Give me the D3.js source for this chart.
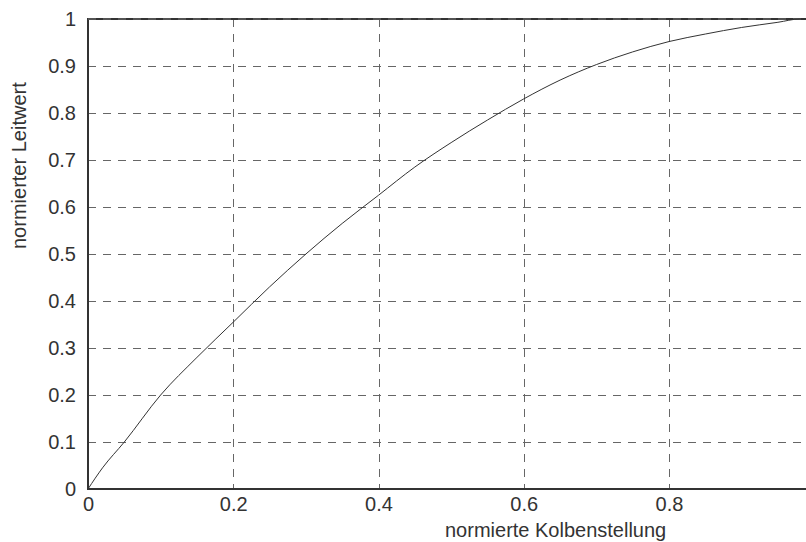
<!DOCTYPE html>
<html>
<head>
<meta charset="utf-8">
<script src="https://cdn.jsdelivr.net/npm/d3@7"></script>
<style>
  html, body { margin: 0; padding: 0; background: #fff; }
  svg { display: block; }
  text { font-family: "Liberation Sans", Arial, Helvetica, sans-serif; fill: #333; }
</style>
</head>
<body>
<svg id="chart" width="806" height="542"></svg>
<script>
// Normalised piston position vs. normalised conductance
const position = [0, 0.02, 0.05, 0.10, 0.15, 0.20, 0.25, 0.30, 0.35, 0.40, 0.45, 0.50,
                  0.55, 0.60, 0.65, 0.70, 0.75, 0.80, 0.85, 0.90, 0.95, 0.98, 1.0];
const conductance = [0, 0.045, 0.10, 0.20, 0.28, 0.355, 0.43, 0.50, 0.565, 0.625, 0.685, 0.737,
                     0.785, 0.83, 0.87, 0.903, 0.93, 0.952, 0.968, 0.982, 0.993, 1.0, 1.0];

const xTicks = [0, 0.2, 0.4, 0.6, 0.8];
const yTicks = [0, 0.1, 0.2, 0.3, 0.4, 0.5, 0.6, 0.7, 0.8, 0.9, 1];
const xTitle = "normierte Kolbenstellung";
const yTitle = "normierter Leitwert";

const svg = d3.select("#chart");
const plotLeft = 88, plotTop = 19, plotBottom = 489, plotRight = 806;

const x = d3.scaleLinear().domain([0, 1]).range([plotLeft, plotLeft + 726.25]);
const y = d3.scaleLinear().domain([0, 1]).range([plotBottom, plotTop]);

// dashed grid
const grid = svg.append("g").attr("stroke", "#666").attr("stroke-width", 1)
  .attr("stroke-dasharray", "8,7").attr("fill", "none");
grid.selectAll("line.v").data(xTicks.filter(d => d > 0)).join("line")
  .attr("x1", d => Math.round(x(d)) + 0.5).attr("x2", d => Math.round(x(d)) + 0.5)
  .attr("y1", y(1)).attr("y2", y(0));
grid.selectAll("line.h").data(yTicks.filter(d => d > 0 && d < 1)).join("line")
  .attr("x1", x(0)).attr("x2", plotRight)
  .attr("y1", d => Math.round(y(d)) + 0.5).attr("y2", d => Math.round(y(d)) + 0.5);

// axes frame (left, bottom, top)
const frame = svg.append("g").attr("stroke", "#333").attr("stroke-width", 2);
frame.append("line").attr("x1", x(0)).attr("x2", x(0)).attr("y1", y(1) - 1).attr("y2", y(0) + 1);
frame.append("line").attr("x1", x(0)).attr("x2", plotRight).attr("y1", y(0)).attr("y2", y(0));
frame.append("line").attr("x1", x(0)).attr("x2", plotRight).attr("y1", y(1)).attr("y2", y(1));
svg.append("line").attr("x1", x(0)).attr("x2", plotRight).attr("y1", y(1)).attr("y2", y(1))
  .attr("stroke", "#777").attr("stroke-width", 1).attr("stroke-dasharray", "8,7");

// curve
const line = d3.line().x((d, i) => x(position[i])).y(d => y(d)).curve(d3.curveMonotoneX);
svg.append("path").datum(conductance).attr("d", line)
  .attr("fill", "none").attr("stroke", "#333").attr("stroke-width", 1);

// tick labels via axis generators (no domain/tick lines)
const xAxis = svg.append("g").attr("transform", `translate(0,${y(0)})`)
  .call(d3.axisBottom(x).tickValues(xTicks).tickFormat(d3.format("~g")).tickSize(0).tickPadding(8));
const yAxis = svg.append("g").attr("transform", `translate(${x(0)},0)`)
  .call(d3.axisLeft(y).tickValues(yTicks).tickFormat(d3.format("~g")).tickSize(0).tickPadding(12));
[xAxis, yAxis].forEach(g => {
  g.select(".domain").remove();
  g.selectAll("text").attr("font-size", 20).attr("fill", "#333")
    .attr("font-family", "Liberation Sans, Arial, sans-serif");
});

svg.append("text").attr("x", 445).attr("y", 537).attr("text-anchor", "start")
  .attr("font-size", 20).text(xTitle);
svg.append("text").attr("transform", `translate(26,249) rotate(-90)`)
  .attr("text-anchor", "start").attr("font-size", 20).text(yTitle);
</script>
</body>
</html>
